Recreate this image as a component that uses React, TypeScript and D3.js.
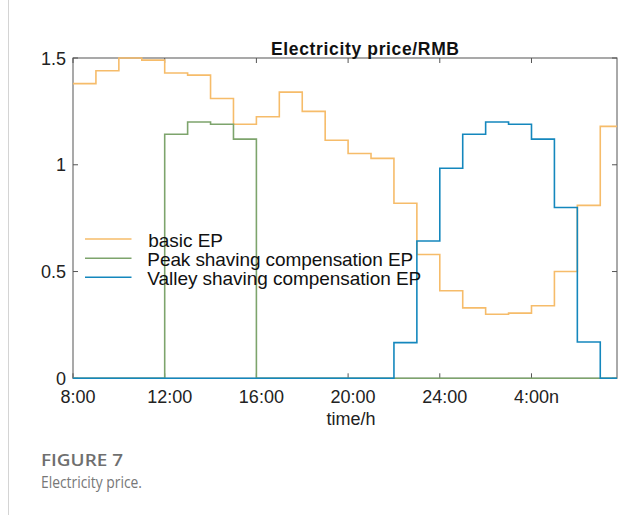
import React from "react";
import * as d3 from "d3";

const tickHours = [0, 4, 8, 12, 16, 20];
const tickLabels = ["8:00", "12:00", "16:00", "20:00", "24:00", "4:00n"];
const yTicks = [0, 0.5, 1, 1.5];
const yTickLabels = ["0", "0.5", "1", "1.5"];

const basicEP = [1.38, 1.44, 1.5, 1.49, 1.43, 1.42, 1.31, 1.19, 1.225, 1.34, 1.25, 1.115, 1.053, 1.03, 0.82, 0.58, 0.41, 0.33, 0.3, 0.305, 0.34, 0.5, 0.81, 1.18];
const peakEP = [0, 0, 0, 0, 1.143, 1.2, 1.19, 1.12, 0, 0, 0, 0, 0, 0, 0, 0, 0, 0, 0, 0, 0, 0, 0, 0];
const valleyEP = [0, 0, 0, 0, 0, 0, 0, 0, 0, 0, 0, 0, 0, 0, 0.167, 0.643, 0.984, 1.143, 1.2, 1.19, 1.12, 0.8, 0.17, 0];

const seriesNames = [" basic EP", "Peak shaving compensation EP", "Valley shaving compensation EP"];
const seriesColors = ["#F6BC6A", "#7DA46C", "#1487BD"];

const W = 641;
const H = 515;
const L = 73, R = 617, T = 58, B = 378.3;
const X_MAX = 23.73;

export default function App() {
  const x = d3.scaleLinear().domain([0, X_MAX]).range([L, R]);
  const y = d3.scaleLinear().domain([0, 1.5]).range([B, T]);
  const line = d3
    .line<[number, number]>()
    .x((d) => x(d[0]))
    .y((d) => y(d[1]))
    .curve(d3.curveStepAfter);
  const toPts = (arr: number[]): [number, number][] => {
    const pts: [number, number][] = arr.map((v, i) => [i, v]);
    pts.push([X_MAX, arr[arr.length - 1]]);
    return pts;
  };
  const series = [basicEP, peakEP, valleyEP];
  const axisColor = "#555";
  const font = "'Liberation Sans', Arial, sans-serif";
  const legendY = [239, 258.3, 277.3];
  const legendLen = [74, 266, 274];

  return (
    <svg
      width={W}
      height={H}
      style={{ position: "absolute", left: 0, top: 0, background: "#fff" }}
    >
      <rect x={0} y={0} width={W} height={H} fill="#fff" />
      <line x1={8.5} x2={8.5} y1={0} y2={H} stroke="#d4d4d4" strokeWidth={1} />
      <defs>
        <clipPath id="plotclip">
          <rect x={L} y={T - 2} width={R - L} height={B - T + 4} />
        </clipPath>
      </defs>
      <rect x={L} y={T} width={R - L} height={B - T} fill="none" stroke={axisColor} strokeWidth={1} />
      {tickHours.map((h, i) => (
        <g key={"xt" + i}>
          <line x1={x(h)} x2={x(h)} y1={B} y2={B - 5} stroke={axisColor} />
          <line x1={x(h)} x2={x(h)} y1={T} y2={T + 5} stroke={axisColor} />
          <text
            x={x(h) + 5}
            y={403}
            textAnchor="middle"
            fontFamily={font}
            fontSize={18}
            fill="#222"
          >
            {tickLabels[i]}
          </text>
        </g>
      ))}
      {yTicks.map((v, i) => (
        <g key={"yt" + i}>
          <line x1={L} x2={L + 5} y1={y(v)} y2={y(v)} stroke={axisColor} />
          <line x1={R} x2={R - 5} y1={y(v)} y2={y(v)} stroke={axisColor} />
          <text
            x={66}
            y={y(v) + 6.5}
            textAnchor="end"
            fontFamily={font}
            fontSize={18}
            fill="#222"
          >
            {yTickLabels[i]}
          </text>
        </g>
      ))}
      <g clipPath="url(#plotclip)">
        {series.map((s, i) => (
          <path
            key={"s" + i}
            d={line(toPts(s)) || ""}
            fill="none"
            stroke={seriesColors[i]}
            strokeWidth={1.6}
          />
        ))}
      </g>
      <text
        x={365}
        y={55}
        textAnchor="middle"
        fontFamily={font}
        fontSize={17.5}
        fontWeight="bold"
        fill="#111"
        textLength={188}
        lengthAdjust="spacing"
      >
        Electricity price/RMB
      </text>
      <text x={351} y={425} textAnchor="middle" fontFamily={font} fontSize={18} fill="#222">
        time/h
      </text>
      {seriesNames.map((n, i) => (
        <g key={"lg" + i}>
          <line x1={85} x2={131.5} y1={legendY[i]} y2={legendY[i]} stroke={seriesColors[i]} strokeWidth={1.6} />
          <text
            x={i === 0 ? 143 : 147.3}
            y={legendY[i] + 8}
            fontFamily={font}
            fontSize={19}
            fill="#111"
            xmlSpace="preserve"
            style={{ whiteSpace: "pre" }}
            textLength={i === 0 ? legendLen[0] + 6 : legendLen[i]}
            lengthAdjust="spacing"
          >
            {n}
          </text>
        </g>
      ))}
      <text
        x={41}
        y={466}
        fontFamily="'Open Sans', 'Noto Sans', sans-serif"
        fontSize={17}
        fontWeight={600}
        fill="#6f6f6f"
        textLength={82}
        lengthAdjust="spacingAndGlyphs"
      >
        FIGURE 7
      </text>
      <text
        x={41}
        y={488}
        fontFamily="'Open Sans', 'Noto Sans', sans-serif"
        fontSize={16}
        fill="#777"
        textLength={101}
        lengthAdjust="spacingAndGlyphs"
      >
        Electricity price.
      </text>
    </svg>
  );
}
